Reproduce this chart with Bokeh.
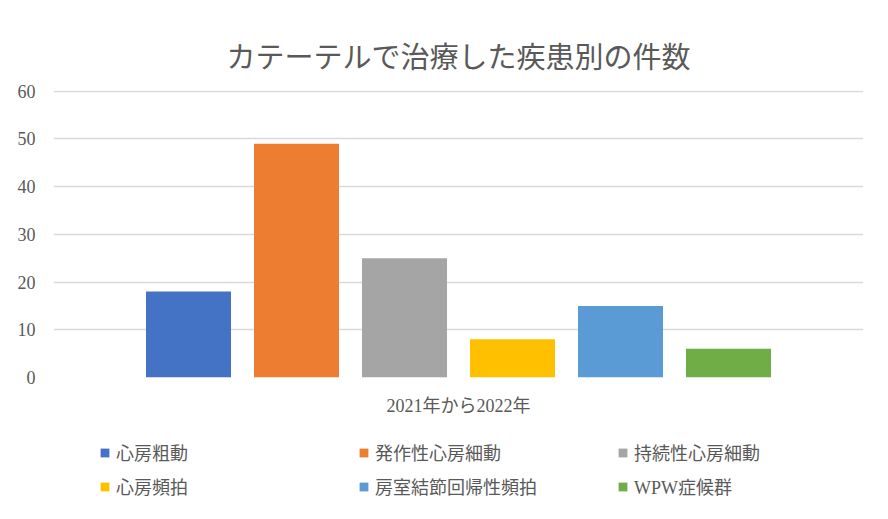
from bokeh.plotting import figure
from bokeh.layouts import column
from bokeh.models import ColumnDataSource, FactorRange, Range1d, Legend, LegendItem, FixedTicker
from bokeh.transform import dodge
from bokeh.embed import file_html
from bokeh.resources import INLINE

title_text = "カテーテルで治療した疾患別の件数"
category = "2021年から2022年"
series_names = ["心房粗動", "発作性心房細動", "持続性心房細動", "心房頻拍", "房室結節回帰性頻拍", "WPW症候群"]
series_values = [18, 49, 25, 8, 15, 6]
series_colors = ["#4472C4", "#ED7D31", "#A5A5A5", "#FFC000", "#5B9BD5", "#70AD47"]
y_ticks = [0, 10, 20, 30, 40, 50, 60]

FONT = "'Liberation Serif', 'Noto Sans CJK JP'"
TXT = "#595959"

p = figure(frame_width=810, frame_height=287, output_backend="svg", toolbar_location=None,
           x_range=FactorRange(factors=[category], range_padding=0),
           y_range=Range1d(0, 60.15),
           min_border_left=53, min_border_right=9, min_border_top=90, min_border_bottom=60)

p.title.text = title_text
p.title.align = "center"
p.title.text_font = FONT
p.title.text_font_size = "29px"
p.title.text_font_style = "normal"
p.title.text_color = TXT
p.title.standoff = 34
p.title.offset = -15

p.background_fill_color = "white"
p.border_fill_color = "white"
p.outline_line_color = None

p.xgrid.grid_line_color = None
p.ygrid.grid_line_color = "#D9D9D9"
p.ygrid.grid_line_width = 1.3

p.yaxis.ticker = FixedTicker(ticks=y_ticks)
p.yaxis.axis_line_color = None
p.yaxis.major_tick_line_color = None
p.yaxis.minor_tick_line_color = None
p.yaxis.major_label_text_font = FONT
p.yaxis.major_label_text_font_size = "18px"
p.yaxis.major_label_text_color = TXT
p.yaxis.major_label_standoff = 12

p.xaxis.axis_line_color = None
p.xaxis.major_tick_line_color = None
p.xaxis.minor_tick_line_color = None
p.xaxis.major_label_text_font = FONT
p.xaxis.major_label_text_font_size = "18px"
p.xaxis.major_label_text_color = TXT
p.xaxis.major_label_standoff = 12

n = len(series_names)
pitch = 108 / 810
bar_w = 85 / 810
sources = []
for i, (name, v, c) in enumerate(zip(series_names, series_values, series_colors)):
    src = ColumnDataSource(dict(cat=[category], value=[v]))
    sources.append(src)
    p.vbar(x=dodge("cat", (i - (n - 1) / 2) * pitch, range=p.x_range), top="value",
           width=bar_w, source=src, fill_color=c, line_color=None)

# legend strip below the chart (zero-width bars: only the legend entries show)
pl = figure(width=872, height=66, output_backend="svg", toolbar_location=None,
            x_range=FactorRange(factors=[category]), y_range=Range1d(-2, -1),
            x_axis_location=None, y_axis_location=None,
            min_border_left=0, min_border_right=0, min_border_top=0, min_border_bottom=0)
pl.grid.visible = False
pl.outline_line_color = None
pl.background_fill_color = "white"
pl.border_fill_color = "white"

items = []
for name, c, src in zip(series_names, series_colors, sources):
    r = pl.vbar(x="cat", top="value", width=0, source=src, fill_color=c, line_color=None)
    items.append(LegendItem(label=name, renderers=[r]))

for row, loc in ((items[:3], (46, 38)), (items[3:], (46, 4))):
    lg = Legend(items=row, orientation="horizontal", location=loc,
                label_text_font=FONT, label_text_font_size="18px", label_text_color=TXT,
                glyph_width=11, glyph_height=11, label_standoff=6, label_width=240,
                label_height=22, spacing=2, border_line_color=None,
                background_fill_alpha=0, padding=0, margin=0)
    pl.add_layout(lg, "center")

layout = column(p, pl, spacing=0)
open("out.html", "w").write(file_html(layout, INLINE))
